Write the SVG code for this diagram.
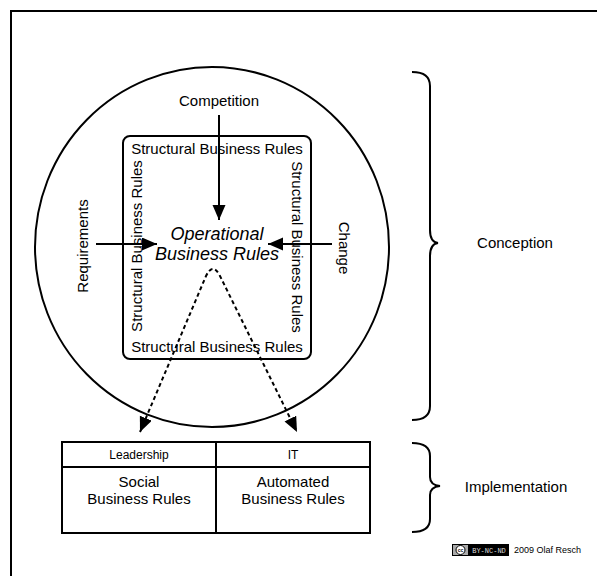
<svg xmlns="http://www.w3.org/2000/svg" width="597" height="576" viewBox="0 0 597 576">
<style>
text{font-family:"Liberation Sans",Arial,sans-serif;fill:#000}
.t15{font-size:15px}
.t12{font-size:12px}
.line{fill:none;stroke:#000;stroke-width:2}
.dash{fill:none;stroke:#000;stroke-width:2;stroke-dasharray:4,3}
</style>
<defs>
<marker id="ah" markerUnits="userSpaceOnUse" markerWidth="16" markerHeight="14" refX="15" refY="6.5" orient="auto-start-reverse">
<path d="M0,0 L15,6.5 L0,13 z" fill="#000"/>
</marker>
</defs>
<rect width="597" height="576" fill="#fff"/>
<g id="frame"><rect x="11" y="11" width="600" height="600" class="line"/></g>
<g id="conception-circle"><ellipse cx="212" cy="247" rx="177" ry="180" class="line"/></g>
<g id="structural-box">
<rect x="123" y="136" width="188" height="223" rx="7" class="line"/>
<text class="t15" x="217" y="154" text-anchor="middle">Structural Business Rules</text>
<text class="t15" x="217" y="352" text-anchor="middle">Structural Business Rules</text>
<text class="t15" transform="translate(142,246) rotate(-90)" text-anchor="middle">Structural Business Rules</text>
<text class="t15" transform="translate(292,247) rotate(90)" text-anchor="middle">Structural Business Rules</text>
</g>
<g id="operational">
<text x="217" y="240" text-anchor="middle" font-size="18" font-style="italic">Operational</text>
<text x="217" y="260" text-anchor="middle" font-size="18" font-style="italic">Business Rules</text>
</g>
<g id="competition"><text class="t15" x="219" y="106" text-anchor="middle">Competition</text></g>
<g id="requirements"><text class="t15" transform="translate(88,246) rotate(-90)" text-anchor="middle">Requirements</text></g>
<g id="change"><text class="t15" transform="translate(339,248) rotate(90)" text-anchor="middle">Change</text></g>
<g id="table">
<rect x="62" y="442" width="308" height="91" class="line"/>
<line x1="62" y1="467" x2="370" y2="467" class="line"/>
<line x1="216" y1="442" x2="216" y2="533" class="line"/>
<text class="t12" x="139" y="459" text-anchor="middle">Leadership</text>
<text class="t12" x="293" y="459" text-anchor="middle">IT</text>
<text class="t15" x="139" y="487" text-anchor="middle">Social</text>
<text class="t15" x="139" y="504" text-anchor="middle">Business Rules</text>
<text class="t15" x="293" y="487" text-anchor="middle">Automated</text>
<text class="t15" x="293" y="504" text-anchor="middle">Business Rules</text>
</g>
<g id="conception-brace">
<path d="M412,72 Q430,72 430,86 L430,230 Q430,242 438,243 Q430,244 430,256 L430,406 Q430,420 412,420" class="line"/>
<text class="t15" x="515" y="248" text-anchor="middle">Conception</text>
</g>
<g id="implementation-brace">
<path d="M412,443 Q430,443 430,456 L430,477 Q430,485 440,486 Q430,487 430,495 L430,519 Q430,532 412,532" class="line"/>
<text class="t15" x="516" y="492" text-anchor="middle">Implementation</text>
</g>
<g id="footer">
<rect x="452" y="544" width="57" height="12" fill="#000"/>
<rect x="453" y="545" width="15" height="10" fill="#aaa"/>
<circle cx="460.5" cy="550" r="4.5" fill="#fff" stroke="#000" stroke-width="1"/>
<text x="460.5" y="552" font-size="5" font-weight="bold" text-anchor="middle">cc</text>
<text x="489" y="553" font-size="7" text-anchor="middle" style="fill:#ddd;font-family:'Liberation Mono',monospace">BY-NC-ND</text>
<text x="514" y="553" font-size="9">2009 Olaf Resch</text>
</g>
<g id="connectors">
<line x1="219" y1="115" x2="219" y2="220" class="line" marker-end="url(#ah)"/>
<line x1="96" y1="244" x2="157" y2="244" class="line" marker-end="url(#ah)"/>
<line x1="332" y1="244" x2="268" y2="244" class="line" marker-end="url(#ah)"/>
<path d="M140,432 L206,276 Q213,262 220,276 L297,432" class="dash" marker-start="url(#ah)" marker-end="url(#ah)"/>
</g>
</svg>
